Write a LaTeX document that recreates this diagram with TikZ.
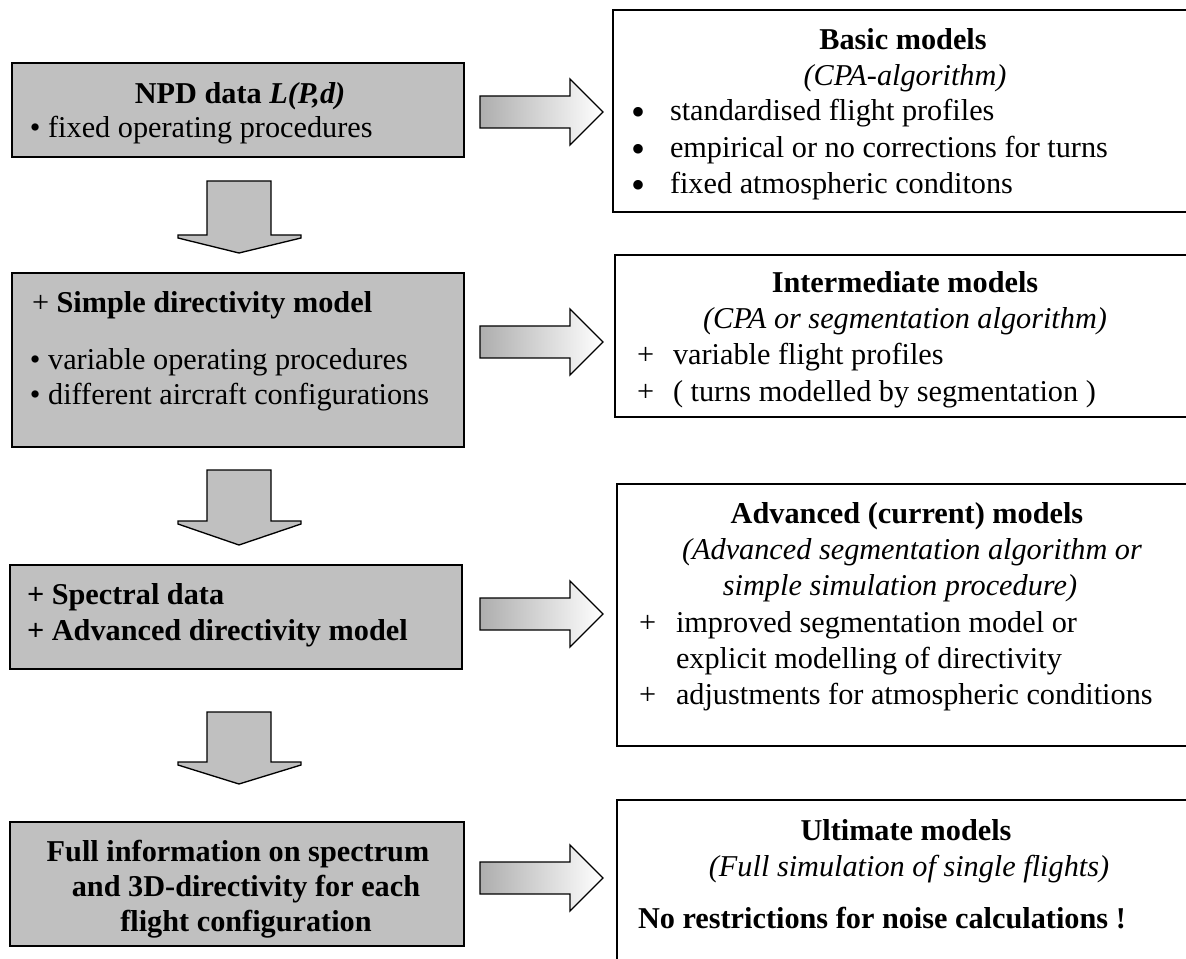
\documentclass[tikz,border=0pt]{standalone}
\usepackage{fontspec}
\setmainfont{Liberation Serif}
\begin{document}
\begin{tikzpicture}[x=0.75pt,y=-0.75pt,
  every node/.style={inner sep=0pt,outer sep=0pt},
  graybox/.style={draw=black,line width=1.6pt,fill=boxgray},
  whitebox/.style={draw=black,line width=1.6pt,fill=white},
  txt/.style={font=\fontsize{22.7}{28}\selectfont,anchor=base west},
  ctxt/.style={font=\fontsize{22.7}{28}\selectfont,anchor=base},
  bigbullet/.style={font=\fontsize{30}{30}\selectfont,anchor=base},
  downarrow/.style={draw=black,line width=1pt,fill=boxgray},
  rightarrow/.style={draw=black,line width=1pt,left color=black!32,right color=white}]
\definecolor{boxgray}{HTML}{C0C0C0}
\useasboundingbox (0,0) rectangle (1186,959);
\clip (0,0) rectangle (1186,959);
% left boxes
\node[graybox,anchor=north west,minimum width=452*0.75pt,minimum height=94*0.75pt] (b1) at (12,63) {};
\node[graybox,anchor=north west,minimum width=452*0.75pt,minimum height=174*0.75pt] (b2) at (12,273) {};
\node[graybox,anchor=north west,minimum width=452*0.75pt,minimum height=104*0.75pt] (b3) at (10,565) {};
\node[graybox,anchor=north west,minimum width=454*0.75pt,minimum height=124*0.75pt] (b4) at (10,822) {};
% right boxes
\node[whitebox,anchor=north west,minimum width=620*0.75pt,minimum height=202*0.75pt] (r1) at (613,10) {};
\node[whitebox,anchor=north west,minimum width=620*0.75pt,minimum height=162*0.75pt] (r2) at (615,255) {};
\node[whitebox,anchor=north west,minimum width=620*0.75pt,minimum height=262*0.75pt] (r3) at (617,484) {};
\node[whitebox,anchor=north west,minimum width=620*0.75pt,minimum height=200*0.75pt] (r4) at (617,800) {};
% left texts
\node[ctxt] (t11) at (240,104) {\textbf{NPD data \textit{L(P,d)}}};
\node[txt] (t12) at (30,138) {• fixed operating procedures};
\node[txt] (t21) at (32,313) {+ \textbf{Simple directivity model}};
\node[txt] (t22) at (30,370) {• variable operating procedures};
\node[txt] (t23) at (30,405) {• different aircraft configurations};
\node[txt] (t31) at (27,604) {\textbf{+ Spectral data}};
\node[txt] (t32) at (27,640) {\textbf{+ Advanced directivity model}};
\node[ctxt] (t41) at (238,861) {\textbf{Full information on spectrum}};
\node[ctxt] (t42) at (246,896) {\textbf{and 3D-directivity for each}};
\node[ctxt] (t43) at (246,931) {\textbf{flight configuration}};
% right texts
\node[ctxt] (s11) at (903,50) {\textbf{Basic models}};
\node[ctxt] (s12) at (905,86) {\textit{(CPA-algorithm)}};
\node[bigbullet] (s13a) at (638,126) {•};
\node[txt] (s13) at (670,121) {standardised flight profiles};
\node[bigbullet] (s14a) at (638,163) {•};
\node[txt] (s14) at (670,158) {empirical or no corrections for turns};
\node[bigbullet] (s15a) at (638,199) {•};
\node[txt] (s15) at (670,194) {fixed atmospheric conditons};
\node[ctxt] (s21) at (905,293) {\textbf{Intermediate models}};
\node[ctxt] (s22) at (905,329) {\textit{(CPA or segmentation algorithm)}};
\node[txt] (s23a) at (637,365) {+};
\node[txt] (s23) at (673,365) {variable flight profiles};
\node[txt] (s24a) at (637,402) {+};
\node[txt] (s24) at (673,402) {( turns modelled by segmentation )};
\node[ctxt] (s31) at (907,523) {\textbf{Advanced (current) models}};
\node[ctxt] (s32) at (912,559) {\textit{(Advanced segmentation algorithm or}};
\node[ctxt] (s33) at (900,595) {\textit{simple simulation procedure)}};
\node[txt] (s34a) at (639,632) {+};
\node[txt] (s34) at (676,632) {improved segmentation model or};
\node[txt] (s35) at (676,668) {explicit modelling of directivity};
\node[txt] (s36a) at (639,704) {+};
\node[txt] (s36) at (676,704) {adjustments for atmospheric conditions};
\node[ctxt] (s41) at (906,840) {\textbf{Ultimate models}};
\node[ctxt] (s42) at (909,876) {\textit{(Full simulation of single flights)}};
\node[txt] (s43) at (638,928) {\textbf{No restrictions for noise calculations !}};
% down arrows (from box to box)
\foreach \t/\b/\tip [count=\i] in {181/235/253, 470/521/545, 712/762/784} {
  \coordinate (d\i) at (239,\t);
  \draw[downarrow] (207,\t) -- (271,\t) -- (271,\b) -- (301,\b) -- (301,\b+3)
     -- (239,\tip) -- (178,\b+3) -- (178,\b) -- (207,\b) -- cycle;
}
% right arrows
\foreach \c [count=\i] in {112, 342, 614, 878} {
  \coordinate (a\i) at (480,\c);
  \draw[rightarrow] (480,\c-16) -- (570,\c-16) -- (570,\c-33) -- (603,\c)
     -- (570,\c+33) -- (570,\c+16) -- (480,\c+16) -- cycle;
}
\end{tikzpicture}
\end{document}
